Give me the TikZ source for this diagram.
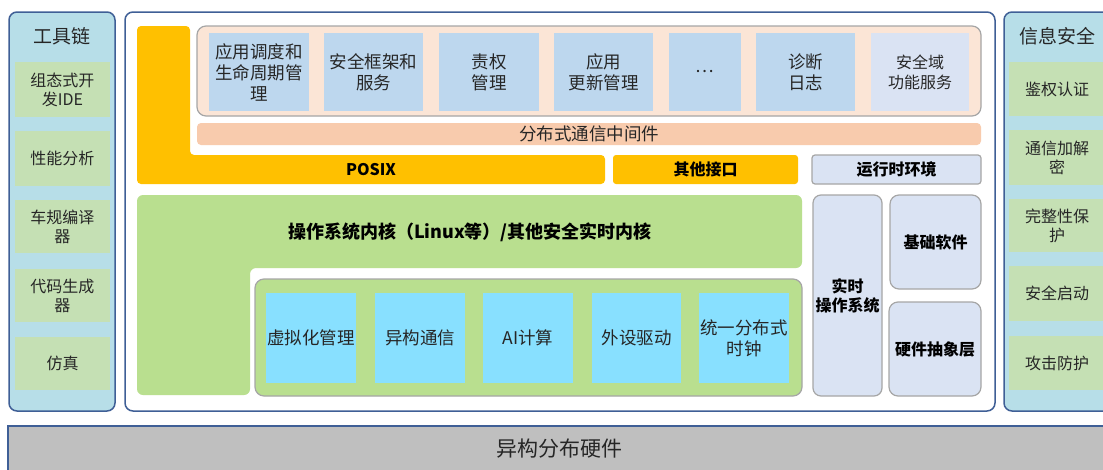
\documentclass[tikz,border=0pt]{standalone}
\usepackage{fontspec}
\setmainfont{Noto Sans CJK SC}
\definecolor{panelblue}{HTML}{B7DEE8}
\definecolor{edgeblue}{HTML}{3F5F96}
\definecolor{itemgreen}{HTML}{C5E0B4}
\definecolor{yel}{HTML}{FFC000}
\definecolor{peach}{HTML}{FBE5D6}
\definecolor{appblue}{HTML}{BDD7EE}
\definecolor{lav}{HTML}{DAE3F3}
\definecolor{mid}{HTML}{F8CBAD}
\definecolor{osgreen}{HTML}{B9DF8F}
\definecolor{cyanb}{HTML}{88E0FF}
\definecolor{hwgray}{HTML}{BFBFBF}
\definecolor{boxgray}{HTML}{A6A6A6}
\definecolor{txt}{HTML}{262626}
\newcommand\mybox[7]{\node[#1, inner sep=0pt, minimum width={(#5)-(#3)}, minimum height={(#6)-(#4)}] (#2) at ({((#3)+(#5))/2},{((#4)+(#6))/2}) {#7};}
\begin{document}
\begin{tikzpicture}[x=1pt,y=-1pt,
  panel/.style={draw=edgeblue, line width=1.5pt, rounded corners=8pt},
  item/.style={fill=itemgreen, text=txt, align=center, font=\fontsize{16}{19}\selectfont},
  ttl/.style={text=txt, font=\fontsize{19}{22}\selectfont},
  appbox/.style={fill=appblue, text=txt, align=center, font=\fontsize{17.5}{21}\selectfont},
  lavbox/.style={fill=lav, draw=boxgray, line width=1.2pt, rounded corners=6pt, text=black, align=center, font=\bfseries\fontsize{16}{19}\selectfont},
  cyanbox/.style={fill=cyanb, text=txt, align=center, font=\fontsize{17.5}{21}\selectfont},
  boldtxt/.style={text=black, font=\bfseries\fontsize{16}{19}\selectfont}
]
\useasboundingbox (0,0) rectangle (1103,469);
\clip (0,0) rectangle (1103,469);

% bottom hardware bar
\mybox{fill=hwgray, draw=edgeblue, line width=1.5pt, text=txt, font=\fontsize{21}{25}\selectfont}{hw}{8}{426}{1110}{471}{异构分布硬件}

% left panel
\mybox{panel, fill=panelblue}{tools}{9}{12}{115}{411}{}
\node[ttl] (toolsT) at (62,36) {工具链};
\mybox{item}{t1}{15}{62}{110}{117}{组态式开\\发IDE}
\mybox{item}{t2}{15}{131}{110}{186}{性能分析}
\mybox{item}{t3}{15}{200}{110}{253}{车规编译\\器}
\mybox{item}{t4}{15}{269}{110}{322}{代码生成\\器}
\mybox{item}{t5}{15}{337}{110}{390}{仿真}

% right panel
\mybox{panel, fill=panelblue}{sec}{1004}{12}{1125}{411}{}
\node[ttl] (secT) at (1057,36) {信息安全};
\mybox{item}{s1}{1009}{62}{1105}{116}{鉴权认证}
\mybox{item}{s2}{1009}{130}{1105}{185}{通信加解\\密}
\mybox{item}{s3}{1009}{199}{1105}{252}{完整性保\\护}
\mybox{item}{s4}{1009}{266}{1105}{321}{安全启动}
\mybox{item}{s5}{1009}{336}{1105}{390}{攻击防护}

% central panel
\mybox{panel, fill=white}{core}{125}{12}{995}{411}{}

% yellow L (POSIX)
\fill[yel, rounded corners=4pt] (137,26) -- (190,26) -- (190,155) -- (605,155) -- (605,184) -- (137,184) -- cycle;
\node[boldtxt] (posix) at (371,170) {POSIX};
\mybox{fill=yel, rounded corners=3pt, boldtxt}{other}{613}{155}{798}{184}{其他接口}
\mybox{lavbox, rounded corners=3pt}{rte}{812}{155}{981}{184}{运行时环境}

% application layer
\mybox{fill=peach, draw=boxgray, line width=1.2pt, rounded corners=9pt}{apps}{197}{26}{981}{116}{}
\mybox{appbox}{a1}{209}{33}{309}{111}{应用调度和\\生命周期管\\理}
\mybox{appbox}{a2}{324}{33}{423}{111}{安全框架和\\服务}
\mybox{appbox}{a3}{439}{33}{539}{111}{责权\\管理}
\mybox{appbox}{a4}{554}{33}{653}{111}{应用\\更新管理}
\mybox{appbox}{a5}{669}{33}{741}{111}{…}
\mybox{appbox}{a6}{756}{33}{855}{111}{诊断\\日志}
\mybox{appbox, fill=lav, font=\fontsize{16}{20}\selectfont}{a7}{871}{33}{969}{111}{安全域\\功能服务}
\mybox{fill=mid, rounded corners=4pt, text=txt, font=\fontsize{17.5}{21}\selectfont}{mw}{197}{123}{981}{145}{分布式通信中间件}

% OS kernel green L
\fill[osgreen, rounded corners=6pt] (137,195) -- (802,195) -- (802,268) -- (250,268) -- (250,395) -- (137,395) -- cycle;
\node[text=black, font=\bfseries\fontsize{18}{22}\selectfont] (kern) at (470,232) {操作系统内核（Linux等）/其他安全实时内核};
\mybox{fill=osgreen, draw=boxgray, line width=1.2pt, rounded corners=9pt}{kmods}{255}{279}{802}{396}{}
\mybox{cyanbox}{k1}{266}{293}{356}{383}{虚拟化管理}
\mybox{cyanbox}{k2}{375}{293}{465}{383}{异构通信}
\mybox{cyanbox}{k3}{483}{293}{573}{383}{AI计算}
\mybox{cyanbox}{k4}{592}{293}{681}{383}{外设驱动}
\mybox{cyanbox}{k5}{699}{293}{789}{383}{统一分布式\\时钟}

% RTOS side
\mybox{lavbox, rounded corners=8pt}{rtos}{813}{195}{882}{396}{实时\\操作系统}
\mybox{lavbox, rounded corners=9pt}{base}{890}{195}{981}{289}{基础软件}
\mybox{lavbox, rounded corners=9pt}{hal}{889}{302}{981}{396}{硬件抽象层}
\end{tikzpicture}
\end{document}
